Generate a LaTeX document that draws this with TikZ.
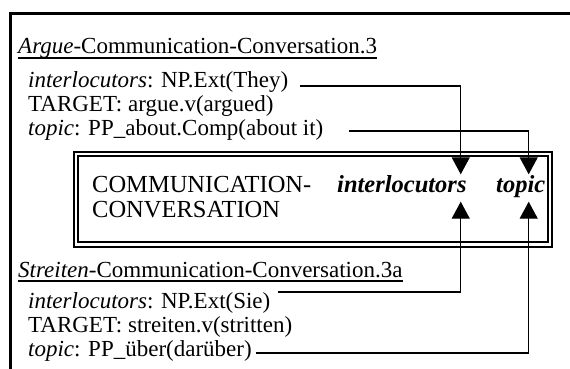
\documentclass[tikz,border=0pt]{standalone}
\usepackage{fontspec}
\setmainfont{Liberation Serif}
\usetikzlibrary{arrows.meta,calc}

\tikzset{
  txt/.style={anchor=base west, inner sep=0pt, font=\fontsize{23}{24}\selectfont},
  boxtxt/.style={anchor=base west, inner sep=0pt, font=\fontsize{24.5}{25}\selectfont},
  role/.style={boxtxt, text height=17pt, text depth=9pt, inner ysep=0.5pt, inner xsep=0pt},
  frame/.style={line width=3pt},
  boxline/.style={line width=1.8pt},
  uline/.style={line width=1.3pt},
  link/.style={line width=1.3pt, -{Triangle[width=18pt,length=17pt]}}
}

\begin{document}
\begin{tikzpicture}[x=1pt,y=-1pt]
		%%%%% START %%%%%
		\useasboundingbox (0,0) rectangle (570,369);
		
		% outer frame
		\draw[frame] (10,369) -- (10,14) -- (570,14);
		
		% english frame
		\node[txt] (argHead) at (18,54) {\textit{Argue}-Communication-Conversation.3};
		\draw[uline] ([yshift=-4pt]argHead.base west) -- ([yshift=-4pt]argHead.base east);
		\node[txt] (argIntl) at (28,87) {\textit{interlocutors}: NP.Ext(They)};
		\node[txt] (argTarget) at (28,111) {TARGET: argue.v(argued)};
		\node[txt] (argTopic) at (28,135) {\textit{topic}: PP\_about.Comp(about it)};
		
		% frame box
		\draw[boxline] (74,152) rectangle (552,247);
		\draw[boxline] (78,156) rectangle (548,242);
		\node[boxtxt] (boxComm) at (92,192) {COMMUNICATION-};
		\node[boxtxt] (boxConv) at (92,217) {CONVERSATION};
		\node[role] (boxIntl) at (337,192) {\textbf{\textit{interlocutors}}};
		\node[role] (boxTopic) at (496,192) {\textbf{\textit{topic}}};
		
		% german frame
		\node[txt] (strHead) at (18,277) {\textit{Streiten}-Communication-Conversation.3a};
		\draw[uline] ([yshift=-4pt]strHead.base west) -- ([yshift=-4pt]strHead.base east);
		\node[txt] (strIntl) at (28,308) {\textit{interlocutors}: NP.Ext(Sie)};
		\node[txt] (strTarget) at (28,332) {TARGET: streiten.v(stritten)};
		\node[txt] (strTopic) at (28,356) {\textit{topic}: PP\_über(darüber)};
		
		% links
		\coordinate (argIntlOut) at ($(argIntl.base east)+(12,-1)$);
		\coordinate (argTopicOut) at ($(argTopic.base east)+(25,-4)$);
		\coordinate (strIntlOut) at ($(strIntl.base east)+(7,-16)$);
		\coordinate (strTopicOut) at ($(strTopic.base east)+(4,-3)$);
		
		\draw[link] (argIntlOut) -| ($(boxIntl.north east)+(-6,0)$);
		\draw[link] (argTopicOut) -| ($(boxTopic.north)+(8,0)$);
		\draw[link] (strIntlOut) -| ($(boxIntl.south east)+(-6,0)$);
		\draw[link] (strTopicOut) -| ($(boxTopic.south)+(8,0)$);
		
		%%%%% END %%%%%
\end{tikzpicture}
\end{document}
